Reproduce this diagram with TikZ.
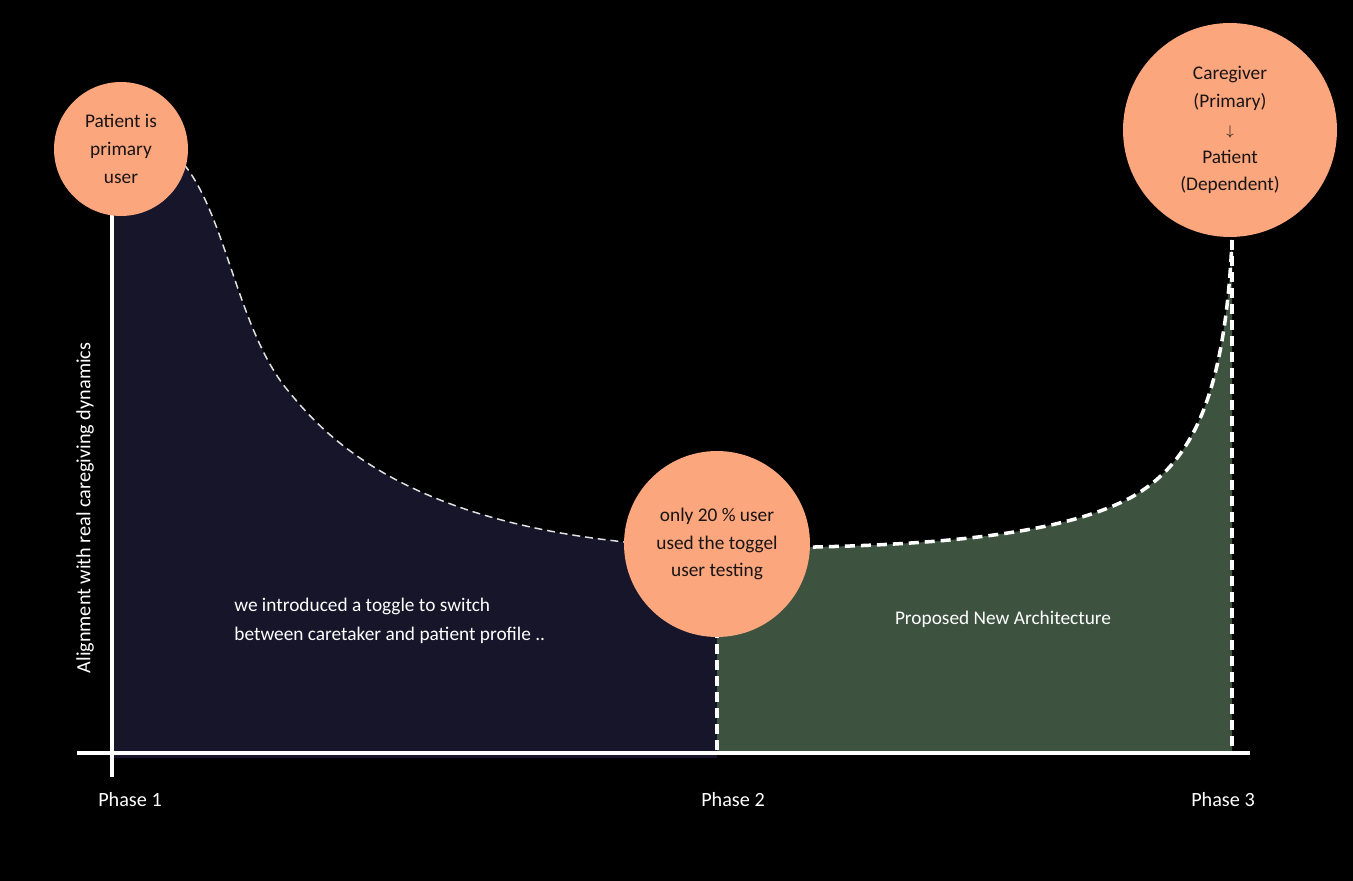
\documentclass[tikz,border=0pt]{standalone}
\usepackage{fontspec}
\setmainfont{Carlito}
\usetikzlibrary{positioning}
\definecolor{chartBg}{RGB}{0, 0, 0}
\definecolor{chartNavy}{RGB}{22, 21, 41}
\definecolor{chartGreen}{RGB}{61, 83, 64}
\definecolor{chartPeach}{RGB}{251, 166, 125}
\definecolor{chartInk}{RGB}{26, 20, 20}
\tikzset{
  Bubble/.style     = {circle, fill=chartPeach, inner sep=0pt, align=center,
                       text=chartInk, font=\fontsize{11}{15.9}\selectfont},
  AxisLine/.style   = {line width=2.2pt, white},
  ThinCurve/.style  = {line width=0.85pt, color=white!88!black,
                       dash pattern=on 4.5pt off 2.8pt},
  ThickCurve/.style = {line width=2pt, color=white,
                       dash pattern=on 5.7pt off 3.4pt},
  PhaseLabel/.style = {text=white, inner sep=0pt, font=\fontsize{11.5}{14}\selectfont},
  AreaNote/.style   = {text=white, inner sep=0pt, align=left,
                       font=\fontsize{11}{16.4}\selectfont},
}

\begin{document}
\begin{tikzpicture}[x=0.02cm, y=-0.02cm]
    \useasboundingbox (0,0) rectangle (1353,881);
    \fill[chartBg] (0,0) rectangle (1353,881);
    % key points of the curve
    \coordinate (top1) at (121,149);
    \coordinate (low2) at (717,548);
    \coordinate (top3) at (1232,240);
    \coordinate (base1) at (112,753);
    \coordinate (base2) at (717,753);
    \coordinate (base3) at (1232,753);
    \fill[chartNavy] (112,149) -- (175,155) .. controls (225,200) and (235,330) .. (290,393)
        .. controls (340,455) and (440,540) .. (low2) -- (717,758) -- (112,758) -- cycle;
    \fill[chartGreen] (low2) .. controls (900,548) and (1050,540) .. (1130,498)
        .. controls (1190,465) and (1225,400) .. (top3) -- (base3) -- (base2) -- cycle;
    \draw[ThinCurve] (175,155) .. controls (225,200) and (235,330) .. (290,393)
        .. controls (340,455) and (440,540) .. (low2);
    \draw[ThickCurve] (low2) .. controls (900,548) and (1050,540) .. (1130,498)
        .. controls (1190,465) and (1225,400) .. (top3);
    \draw[ThickCurve] (low2) -- (base2);
    \draw[ThickCurve] (top3) -- (base3);
    % axes
    \draw[AxisLine] (112,148) -- (112,777);
    \draw[AxisLine] (77,753) -- (1250,753);
    \node[Bubble, minimum size=2.68cm] (start) at (top1) {Patient is\\primary\\user};
    \node[Bubble, minimum size=3.72cm] (toggle) at (717,544) {only 20 \% user\\used the toggel\\user testing};
    \node[Bubble, minimum size=4.28cm] (target) at (1230,130)
        {Caregiver\\(Primary)\\$\scriptstyle\downarrow$\\Patient\\(Dependent)};
    \node[AreaNote, anchor=west] (note1) at (234,621)
        {we introduced a toggle to switch\\between caretaker and patient profile ..};
    \node[AreaNote] (note2) at (1003,619) {Proposed New Architecture};
    \node[PhaseLabel] (phase1) at (130,800) {Phase 1};
    \node[PhaseLabel] (phase2) at (733,800) {Phase 2};
    \node[PhaseLabel] (phase3) at (1223,800) {Phase 3};
    \node[PhaseLabel, rotate=90] (yaxis) at (85,508) {Alignment with real caregiving dynamics};
  \end{tikzpicture}
\end{document}
